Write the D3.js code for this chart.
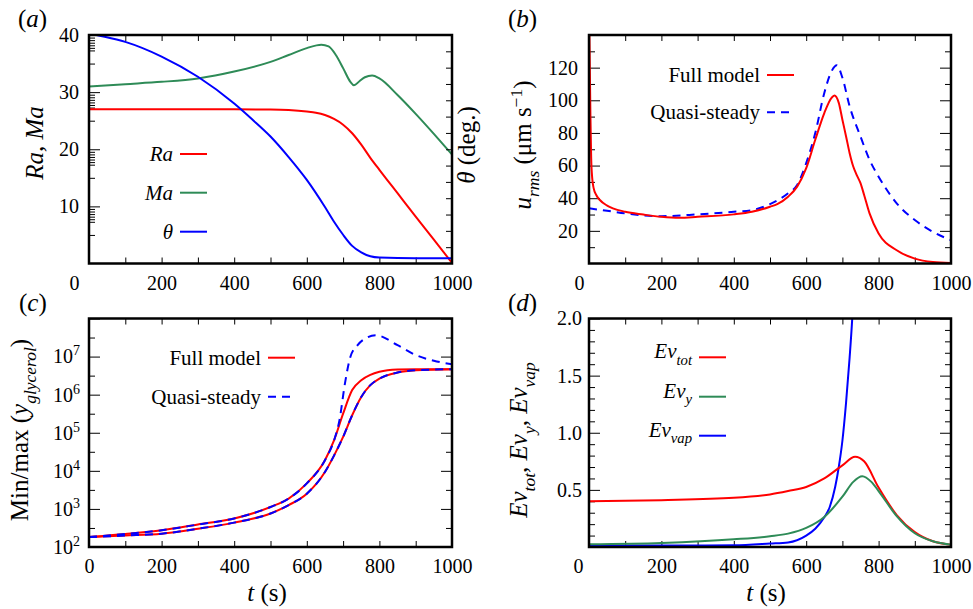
<!DOCTYPE html>
<html><head><meta charset="utf-8">
<script src="https://cdn.jsdelivr.net/npm/d3@7"></script>
<style>body{margin:0;background:#fff}</style></head>
<body><svg id="c" width="973" height="609"></svg>
<script>
// ---------------- DATA ----------------
const xTickValues = [0,100,200,300,400,500,600,700,800,900,1000];
// (a)
const tRa = [0,100,200,300,400,500,550,600,625,650,675,700,725,750,775,800,850,900,950,1000];
const Ra  = [27.0,27.0,27.0,27.0,27.0,26.95,26.85,26.6,26.4,26.0,25.3,24.3,22.8,20.8,18.5,16.4,12.3,8.2,4.2,0.1];
const tMa = [0,100,200,300,400,500,550,600,640,660,680,700,720,730,745,760,780,800,850,900,950,1000];
const Ma  = [31.0,31.4,31.8,32.4,33.6,35.3,36.5,37.7,38.3,38.0,36.5,34.2,31.8,31.2,31.9,32.6,32.9,32.4,29.5,26.2,22.7,19.1];
const tTheta = [0,20,100,200,300,400,450,500,550,600,650,675,700,725,750,775,800,900,1000];
const theta  = [70.5,70.0,67.9,63.4,57.2,49.0,44.1,38.9,32.6,25.6,17.3,12.8,8.8,5.4,3.4,2.2,1.8,1.6,1.6];
const aYTicks = [10,20,30,40];
// (b)
const tFull = [0,2,4,6,9,13,20,30,50,66,100,150,200,250,300,400,450,500,520,550,575,600,625,650,670,678,690,700,710,720,730,740,750,760,775,800,850,900,950,1000];
const urmsFull = [160,125,90,65,52,46,42,38.9,35.5,33.8,31.7,30.0,28.6,28.0,28.6,30.1,31.7,34.8,36.4,40.9,47.1,58.4,75.8,92.2,101.5,102.9,98.4,88.1,78,67.6,59.4,54,49.2,42,30.7,18.4,8.1,3.0,0.9,0.3];
const tQuasi = [0,50,100,200,300,400,450,500,550,575,600,625,650,670,685,700,720,750,775,800,850,900,950,1000];
const urmsQuasi = [33.8,32.3,30.7,29.0,30.1,31.7,32.7,36.4,43.0,48.1,61.5,79.9,104.5,117.8,121.4,113.8,96.3,77.8,63.5,53.2,36.9,26.6,19.4,14.3];
const bYTicks = [20,40,60,80,100,120];
// (c)
const tC = [0,100,200,300,400,500,550,600,650,675,700,725,750,775,800,850,900,1000];
const fullMax = [182,219,275,389,562,1122,1862,4677,19055,63096,316228,1.318e6,2.399e6,3.31e6,3.98e6,4.57e6,4.68e6,4.68e6];
const fullMin = [182,200,224,302,437,759,1259,2512,9333,25119,77625,288403,870964,1.778e6,2.63e6,3.8e6,4.37e6,4.68e6];
const tQmax = [0,100,200,300,400,500,550,600,650,675,690,705,720,740,760,790,850,900,950,1000];
const quasiMax = [182,219,275,389,562,1122,1862,4677,19055,63096,213796,1.95e6,9.77e6,2.0e7,2.95e7,3.63e7,2.0e7,1.1e7,7.76e6,6.31e6];
const quasiMin = [182,200,224,302,437,759,1259,2512,9333,25119,77625,288403,870964,1.778e6,2.63e6,3.8e6,4.37e6,4.68e6];
const cYTicks = [1e2,1e3,1e4,1e5,1e6,1e7];
// (d)
const tTot = [0,200,400,500,550,600,650,700,735,760,800,850,900,950,1000];
const evTot = [0.40,0.41,0.43,0.46,0.49,0.525,0.60,0.715,0.79,0.75,0.52,0.28,0.13,0.05,0.02];
const tY = [0,200,400,500,550,600,650,700,730,755,780,800,850,900,950,1000];
const evY = [0.024,0.035,0.067,0.094,0.117,0.167,0.263,0.44,0.57,0.62,0.57,0.49,0.27,0.12,0.05,0.02];
const tVap = [0,200,400,500,550,600,625,650,665,680,690,700,710,720,727,735];
const evVap = [0.012,0.013,0.015,0.03,0.04,0.1,0.16,0.26,0.35,0.525,0.70,0.93,1.26,1.66,1.99,2.5];
const dYTicks = [0.5,1.0,1.5,2.0];

// ---------------- STYLE / LAYOUT ----------------
const RED='#ff0000', GREEN='#2e8b57', BLUE='#0000ff';
const FS_TICK=20, FS_LAB=25, FS_LEG=21;
const FONT='Liberation Serif';
const svg = d3.select('#c');
const frames = {
  a:{x0:89,x1:452,y0:35,y1:263.5, zeroDx:-15, yPad:10},
  b:{x0:589,x1:951,y0:35,y1:263.5, zeroDx:-10, yPad:11},
  c:{x0:89,x1:452,y0:318.5,y1:547, zeroDx:0, yPad:9},
  d:{x0:589,x1:951,y0:318.5,y1:547, zeroDx:-11, yPad:7}
};

function rich(textSel, parts, fs){
  let shift=0;
  textSel.attr('font-family',FONT).attr('fill','#000');
  parts.forEach(p=>{
    const ts=textSel.append('tspan').attr('font-family',FONT).text(p.t);
    const target = p.sub ? fs*0.32 : (p.sup ? -fs*0.38 : 0);
    if(target-shift!==0) ts.attr('dy', target-shift);
    shift=target;
    if(p.sub||p.sup) ts.attr('font-size', fs*0.7);
    if(p.i) ts.attr('font-style','italic');
  });
}
function styleAxis(sel){
  sel.select('.domain').remove();
  sel.attr('font-family',FONT).attr('font-size',FS_TICK);
  sel.selectAll('text').attr('font-size',FS_TICK).attr('font-family',FONT).attr('fill','#000');
  sel.selectAll('line').attr('stroke','#000').attr('stroke-width',1);
}

function panel(id, y, yMajor, yMinor, extra){
  const f=frames[id];
  const x=d3.scaleLinear([0,1000],[f.x0,f.x1]);
  const g=svg.append('g');
  svg.append('clipPath').attr('id','clip'+id).append('rect')
    .attr('x',f.x0).attr('y',f.y0).attr('width',f.x1-f.x0).attr('height',f.y1-f.y0);
  const xb=g.append('g').attr('transform',`translate(0,${f.y1})`)
    .call(d3.axisBottom(x).tickValues(xTickValues).tickSize(-6).tickPadding(12).tickFormat(d=>d%200===0?d:''));
  styleAxis(xb);
  xb.selectAll('text').filter(d=>d===0).attr('dx',f.zeroDx);
  const xt=g.append('g').attr('transform',`translate(0,${f.y0})`)
    .call(d3.axisTop(x).tickValues(xTickValues).tickSize(-6).tickFormat(''));
  styleAxis(xt);
  const yl=g.append('g').attr('transform',`translate(${f.x0},0)`)
    .call(d3.axisLeft(y).tickValues(yMajor).tickSize(-11).tickPadding(f.yPad).tickFormat(extra.fmt||null));
  styleAxis(yl);
  const ylm=g.append('g').attr('transform',`translate(${f.x0},0)`)
    .call(d3.axisLeft(y).tickValues(yMinor).tickSize(-6).tickFormat(''));
  styleAxis(ylm);
  if(!extra.noMirror){
    const yr=g.append('g').attr('transform',`translate(${f.x1},0)`)
      .call(d3.axisRight(y).tickValues(yMajor).tickSize(-11).tickFormat(''));
    styleAxis(yr);
    const yrm=g.append('g').attr('transform',`translate(${f.x1},0)`)
      .call(d3.axisRight(y).tickValues(yMinor).tickSize(-6).tickFormat(''));
    styleAxis(yrm);
  }
  const plot=g.append('g').attr('clip-path',`url(#clip${id})`);
  return {g,x,y,f,yl,plot};
}
function frame(p){
  p.g.append('rect').attr('x',p.f.x0).attr('y',p.f.y0).attr('width',p.f.x1-p.f.x0).attr('height',p.f.y1-p.f.y0)
    .attr('fill','none').attr('stroke','#000').attr('stroke-width',2.5);
}
function curve(p, ts, vs, color, dashed, yScale){
  const ys=yScale||p.y;
  p.plot.append('path').datum(d3.zip(ts,vs))
    .attr('d',d3.line().x(d=>p.x(d[0])).y(d=>ys(d[1])).curve(d3.curveMonotoneX))
    .attr('fill','none').attr('stroke',color).attr('stroke-width',2)
    .attr('stroke-dasharray',dashed?'8,6':null);
}
function legendItem(p, xr, ly, color, dashed, parts, base){
  const t=p.g.append('text').attr('x',xr-7).attr('y',ly+(base==null?7:base)).attr('text-anchor','end').attr('font-size',FS_LEG);
  rich(t, parts, FS_LEG);
  p.g.append('line').attr('x1',xr).attr('x2',xr+27).attr('y1',ly).attr('y2',ly)
    .attr('stroke',color).attr('stroke-width',2).attr('stroke-dasharray',dashed?'8,6':null);
}
function label(x,y,rot,parts,anchor){
  const t=svg.append('text').attr('transform',`translate(${x},${y}) rotate(${rot})`)
    .attr('text-anchor',anchor||'middle').attr('font-size',FS_LAB);
  rich(t,parts,FS_LAB);
}

// ---------------- PANEL (a) ----------------
const yA=d3.scaleLinear([0,40],[frames.a.y1,frames.a.y0]);
const aMinor=[5,15,25,35].concat(...aYTicks.map(m=>d3.range(1,7).map(k=>m-0.45*k)));
const pA=panel('a', yA, aYTicks, aMinor, {noMirror:true});
const yA2=d3.scaleLinear([0,70],[frames.a.y1,frames.a.y0]);
styleAxis(pA.g.append('g').attr('transform',`translate(${frames.a.x1},0)`)
  .call(d3.axisRight(yA2).tickValues(d3.range(5,70,5)).tickSize(-6).tickFormat('')));
curve(pA,tRa,Ra,RED);
curve(pA,tMa,Ma,GREEN);
curve(pA,tTheta,theta,BLUE,false,yA2);
frame(pA);
legendItem(pA,180,154,RED,false,[{t:'Ra',i:true}]);
legendItem(pA,180,192.7,GREEN,false,[{t:'Ma',i:true}]);
legendItem(pA,180,231.7,BLUE,false,[{t:'θ',i:true}]);

// ---------------- PANEL (b) ----------------
const yB=d3.scaleLinear([0,140],[frames.b.y1,frames.b.y0]);
const pB=panel('b', yB, bYTicks, [10,30,50,70,90,110,130], {});
curve(pB,tQuasi,urmsQuasi,BLUE,true);
curve(pB,tFull,urmsFull,RED);
frame(pB);
legendItem(pB,767,75,RED,false,[{t:'Full model'}]);
legendItem(pB,767,112.3,BLUE,true,[{t:'Quasi-steady'}]);

// ---------------- PANEL (c) ----------------
const yC=d3.scaleLog([1e2,1e8],[frames.c.y1,frames.c.y0]);
const cMinor=[2.5,3.5,4.5,5.5,6.5,7.5].map(e=>Math.pow(10,e));
const pC=panel('c', yC, cYTicks.concat([1e8]), cMinor, {fmt:()=>''});
pC.yl.selectAll('.tick text').each(function(d){
  if(d>=1e8) return;
  const s=d3.select(this); s.text('');
  s.append('tspan').text('10');
  s.append('tspan').attr('dy',-8).attr('font-size',14).text(Math.round(Math.log10(d)));
});
curve(pC,tC,fullMax,RED);
curve(pC,tC,fullMin,RED);
curve(pC,tQmax,quasiMax,BLUE,true);
curve(pC,tC,quasiMin,BLUE,true);
frame(pC);
legendItem(pC,268,357.7,RED,false,[{t:'Full model'}]);
legendItem(pC,268,396.7,BLUE,true,[{t:'Quasi-steady'}]);

// ---------------- PANEL (d) ----------------
const yD=d3.scaleLinear([0,2],[frames.d.y1,frames.d.y0]);
const dMinor=d3.range(1,20).filter(k=>k%5!==0).map(k=>k/10);
const pD=panel('d', yD, dYTicks, dMinor, {fmt:d3.format('.1f')});
curve(pD,tVap,evVap,BLUE);
curve(pD,tTot,evTot,RED);
curve(pD,tY,evY,GREEN);
frame(pD);
legendItem(pD,699,357.3,RED,false,[{t:'Ev',i:true},{t:'tot',i:true,sub:true}],1);
legendItem(pD,699,396.7,GREEN,false,[{t:'Ev',i:true},{t:'y',i:true,sub:true}],1);
legendItem(pD,699,435.7,BLUE,false,[{t:'Ev',i:true},{t:'vap',i:true,sub:true}],1);

// ---------------- LABELS ----------------
label(43,143,-90,[{t:'Ra, Ma',i:true}]);
label(475,145,-90,[{t:'θ',i:true},{t:' (deg.)'}]);
label(531,145,-90,[{t:'u',i:true},{t:'rms',i:true,sub:true},{t:' (μm s'},{t:'−1',sup:true},{t:')'}]);
label(28,430,-90,[{t:'Min/max ('},{t:'y',i:true},{t:'glycerol',i:true,sub:true},{t:')'}]);
label(527,440,-90,[{t:'Ev',i:true},{t:'tot',i:true,sub:true},{t:', '},{t:'Ev',i:true},{t:'y',i:true,sub:true},{t:', '},{t:'Ev',i:true},{t:'vap',i:true,sub:true}]);
label(267,601,0,[{t:'t',i:true},{t:' (s)'}]);
label(766,601,0,[{t:'t',i:true},{t:' (s)'}]);
const pl=[['a',18,27],['b',508,27],['c',19,311],['d',508,311]];
pl.forEach(([k,x,y])=>{
  const t=svg.append('text').attr('x',x).attr('y',y).attr('font-size',FS_LAB);
  rich(t,[{t:'('},{t:k,i:true},{t:')'}],FS_LAB);
});
</script></body></html>
